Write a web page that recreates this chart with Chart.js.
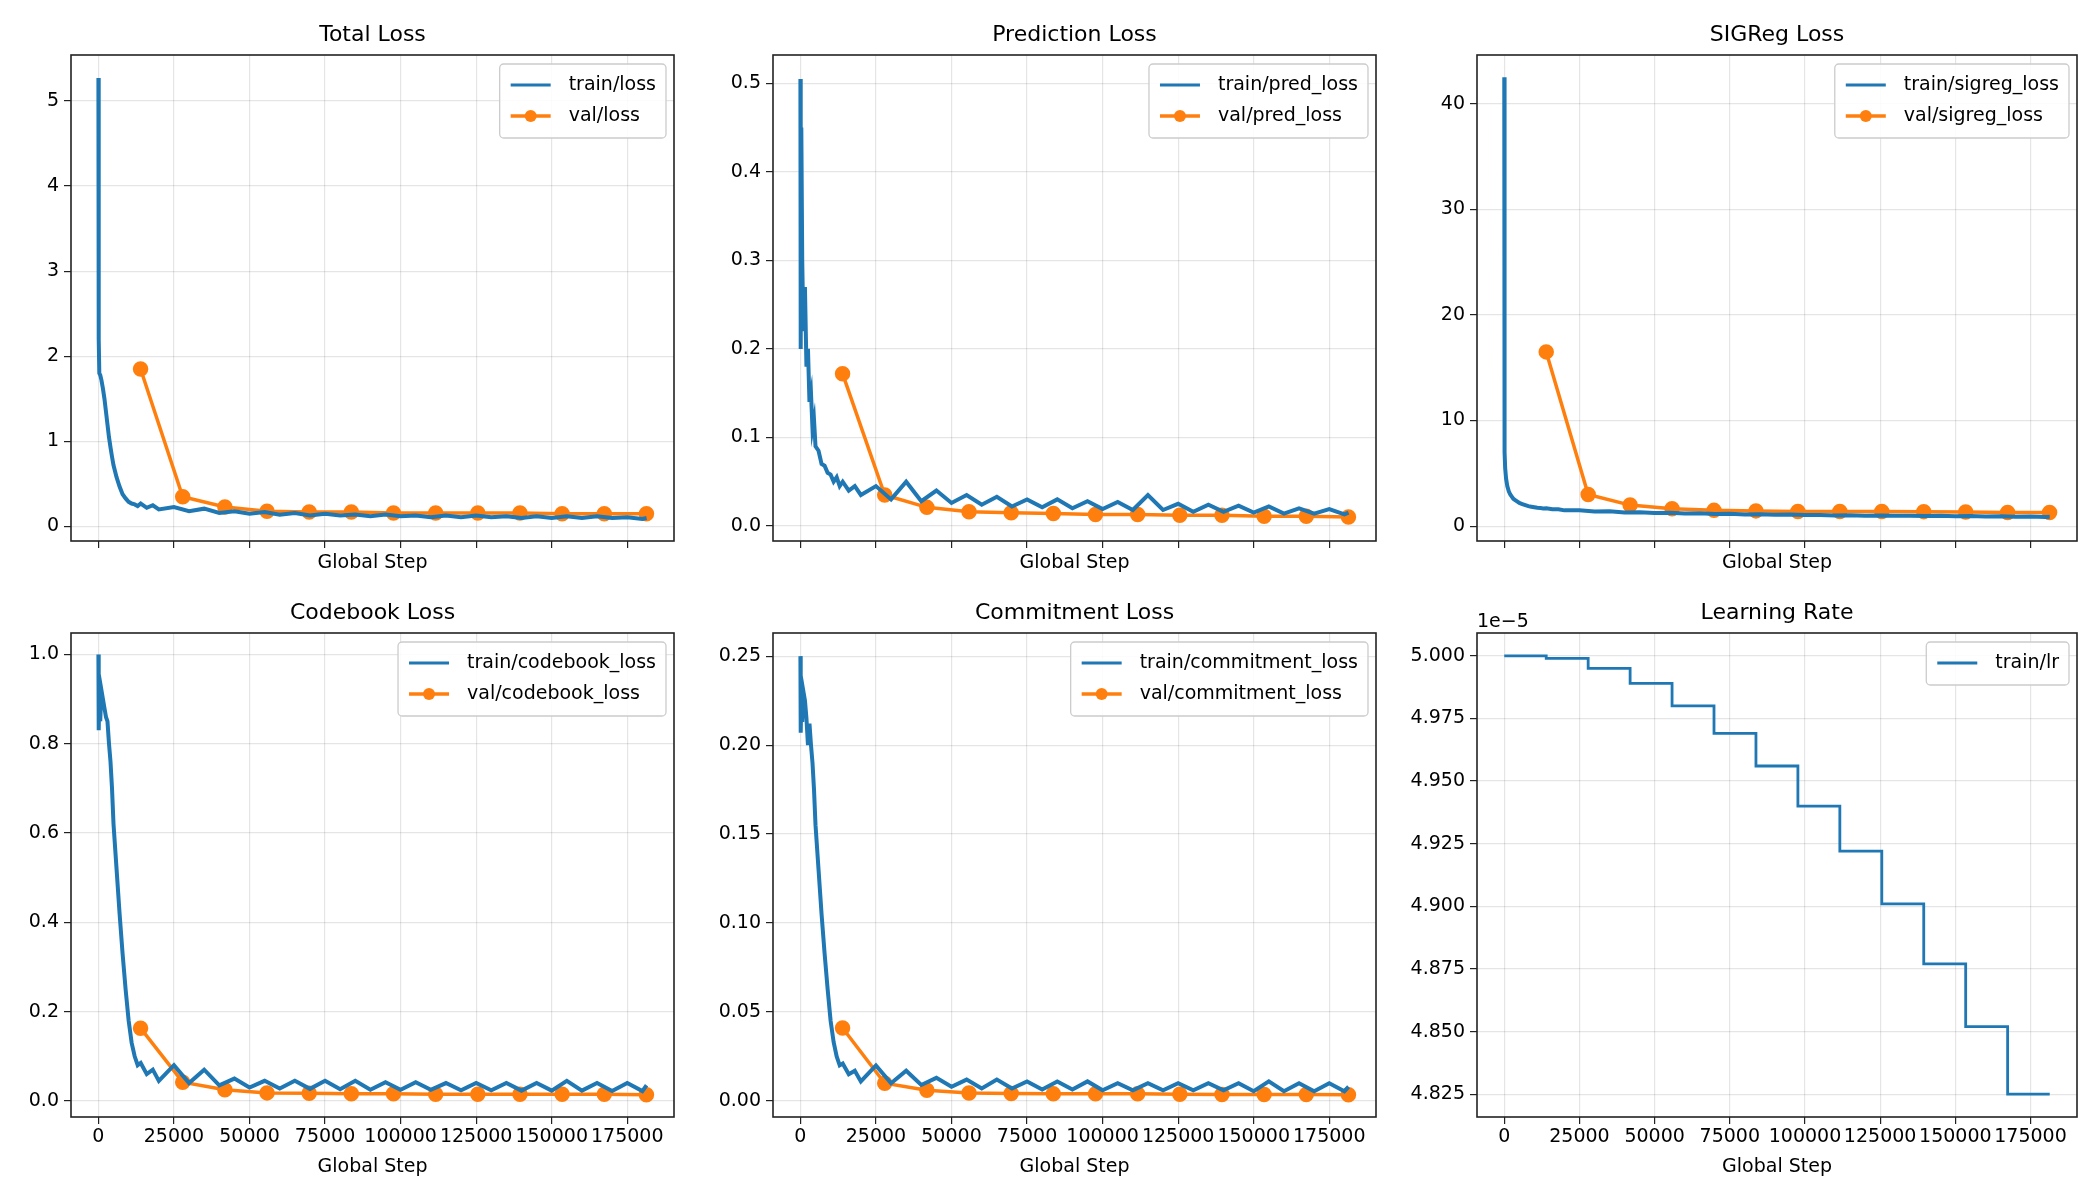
<!DOCTYPE html>
<html><head><meta charset="utf-8">
<script src="https://cdn.jsdelivr.net/npm/chart.js@4"></script>
<style>body{margin:0;background:#fff;width:2100px;height:1200px;position:relative;overflow:hidden}
.p{position:absolute}</style></head><body>
<div class="p" id="d0" style="left:-3px;top:0;width:689px;height:574px"><canvas id="c0"></canvas></div>
<div class="p" id="d1" style="left:692px;top:0;width:696px;height:574px"><canvas id="c1"></canvas></div>
<div class="p" id="d2" style="left:1392px;top:0;width:697px;height:574px"><canvas id="c2"></canvas></div>
<div class="p" id="d3" style="left:-3px;top:581px;width:689px;height:597px"><canvas id="c3"></canvas></div>
<div class="p" id="d4" style="left:692px;top:581px;width:696px;height:597px"><canvas id="c4"></canvas></div>
<div class="p" id="d5" style="left:1392px;top:581px;width:697px;height:597px"><canvas id="c5"></canvas></div>
<script>
const trainSteps=[0,100,300,600,1000,1500,2000,2500,3000,3500,4000,4500,5000,6000,7000,8000,9000,10000,11000,12000,13000,14000,16000,18000,20000,
25000,30000,35000,40000,45000,50000,55000,60000,65000,70000,75000,80000,85000,90000,95000,100000,105000,110000,115000,120000,125000,130000,135000,140000,145000,150000,155000,160000,165000,170000,175000,180000,181400];
const trainLoss=[5.27,2.2,1.8,1.78,1.72,1.62,1.5,1.35,1.2,1.05,0.93,0.82,0.72,0.58,0.47,0.38,0.33,0.29,0.27,0.26,0.24,0.27,0.22,0.25,0.2,
0.23,0.18,0.21,0.16,0.18,0.15,0.17,0.14,0.16,0.13,0.15,0.13,0.14,0.12,0.14,0.12,0.13,0.11,0.13,0.11,0.13,0.11,0.12,0.1,0.12,0.1,0.12,0.1,0.12,0.1,0.11,0.09,0.1];
const trainPred=[0.505,0.2,0.45,0.3,0.22,0.27,0.18,0.2,0.14,0.15,0.11,0.12,0.09,0.085,0.07,0.068,0.06,0.058,0.05,0.055,0.045,0.05,0.04,0.045,0.035,
0.045,0.03,0.05,0.028,0.04,0.026,0.035,0.024,0.033,0.022,0.03,0.021,0.03,0.02,0.028,0.019,0.027,0.018,0.035,0.018,0.025,0.016,0.024,0.016,0.023,0.015,0.022,0.014,0.02,0.014,0.019,0.013,0.015];
const trainSigreg=[42.5,7,5.5,4.5,3.8,3.3,3.0,2.8,2.6,2.5,2.4,2.3,2.2,2.1,2.0,1.9,1.85,1.8,1.75,1.72,1.68,1.7,1.6,1.6,1.5,
1.5,1.4,1.42,1.3,1.32,1.25,1.27,1.2,1.22,1.15,1.18,1.12,1.14,1.08,1.1,1.05,1.07,1.02,1.04,1.0,1.02,0.98,1.0,0.96,0.98,0.94,0.96,0.92,0.94,0.9,0.92,0.88,0.9];
const trainCodebook=[1.0,0.83,0.9,0.85,0.92,0.9,0.88,0.86,0.85,0.8,0.76,0.7,0.62,0.52,0.42,0.33,0.25,0.18,0.13,0.1,0.08,0.085,0.06,0.07,0.045,
0.08,0.04,0.07,0.035,0.05,0.03,0.045,0.028,0.045,0.027,0.045,0.026,0.045,0.025,0.042,0.025,0.042,0.025,0.04,0.024,0.04,0.024,0.04,0.023,0.04,0.023,0.045,0.023,0.04,0.022,0.04,0.022,0.035];
const trainCommit=[0.25,0.207,0.225,0.213,0.23,0.225,0.215,0.2,0.212,0.2,0.19,0.175,0.155,0.13,0.105,0.083,0.063,0.045,0.033,0.025,0.02,0.021,0.015,0.017,0.011,
0.02,0.01,0.017,0.009,0.013,0.008,0.012,0.007,0.012,0.007,0.011,0.0065,0.011,0.0065,0.011,0.006,0.01,0.006,0.01,0.006,0.01,0.006,0.01,0.006,0.01,0.0055,0.011,0.0055,0.01,0.0055,0.01,0.0055,0.008];
const valSteps=[13950,27900,41850,55800,69750,83700,97650,111600,125550,139500,153450,167400,181350];
const valLoss=[1.85,0.35,0.23,0.18,0.17,0.17,0.16,0.16,0.16,0.16,0.15,0.15,0.15];
const valPred=[0.172,0.035,0.021,0.016,0.015,0.014,0.013,0.013,0.012,0.012,0.011,0.011,0.010];
const valSigreg=[16.5,3.0,2.0,1.65,1.5,1.45,1.4,1.4,1.4,1.38,1.35,1.3,1.3];
const valCodebook=[0.163,0.042,0.025,0.018,0.017,0.016,0.016,0.015,0.015,0.015,0.015,0.015,0.014];
const valCommit=[0.041,0.010,0.006,0.0045,0.0042,0.004,0.004,0.004,0.0038,0.0037,0.0037,0.0037,0.0035];
const lrSteps=[0,13950,27900,41850,55800,69750,83700,97650,111600,125550,139500,153450,167400,181400];
const lrValues=[5.000e-5,4.999e-5,4.995e-5,4.989e-5,4.980e-5,4.969e-5,4.956e-5,4.940e-5,4.922e-5,4.901e-5,4.877e-5,4.852e-5,4.825e-5,4.825e-5];
const xTicks=[0,25000,50000,75000,100000,125000,150000,175000];
const yTicks0=[0,1,2,3,4,5], yTicks1=[0,0.1,0.2,0.3,0.4,0.5], yTicks2=[0,10,20,30,40];
const yTicks3=[0,0.2,0.4,0.6,0.8,1.0], yTicks4=[0,0.05,0.1,0.15,0.2,0.25];
const yTicks5=[4.825e-5,4.85e-5,4.875e-5,4.9e-5,4.925e-5,4.95e-5,4.975e-5,5.0e-5];
const titles=['Total Loss','Prediction Loss','SIGReg Loss','Codebook Loss','Commitment Loss','Learning Rate'];

const BLUE='#1f77b4', ORANGE='#ff7f0e', FONT='DejaVu Sans';
const xy=(xs,ys)=>xs.map((x,i)=>({x,y:ys[i]}));
Chart.defaults.font.family=FONT; Chart.defaults.color='#000';

const deco={id:'deco',afterDraw(c){
  const o=c.options.plugins.deco, a=c.chartArea, g=c.ctx;
  g.save();
  g.strokeStyle='#222';g.lineWidth=1.6;g.strokeRect(a.left,a.top,a.right-a.left,a.bottom-a.top);
  g.fillStyle='#000';g.font='22px '+FONT;g.textAlign='center';g.textBaseline='middle';
  g.fillText(o.title,(a.left+a.right)/2,a.top-20);
  if(o.exp){g.font='19px '+FONT;g.textAlign='left';g.textBaseline='alphabetic';g.fillText(o.exp,a.left,a.top-6);}
  const ds=c.data.datasets; g.font='19px '+FONT;
  let tw=0; ds.forEach(d=>tw=Math.max(tw,g.measureText(d.label).width));
  const w=69+tw+10, h=ds.length*31+12, x=a.right-8-w, y=a.top+9;
  g.fillStyle='rgba(255,255,255,0.85)';g.strokeStyle='#ccc';g.lineWidth=1.3;
  g.beginPath();g.roundRect(x,y,w,h,4);g.fill();g.stroke();
  ds.forEach((d,i)=>{const cy=y+21+i*31;
    g.strokeStyle=d.borderColor;g.lineWidth=d.legendWidth||d.borderWidth;g.beginPath();g.moveTo(x+11,cy);g.lineTo(x+51,cy);g.stroke();
    if(d.pointRadius>0){g.fillStyle=d.borderColor;g.beginPath();g.arc(x+31,cy,d.pointRadius,0,7);g.fill();}
    g.fillStyle='#000';g.textAlign='left';g.textBaseline='middle';g.fillText(d.label,x+69,cy);});
  g.restore();}};

function make(i,train,trainLabel,val,valLabel,yT,ymin,ymax,fmt,bottom){
  const ds=[{label:trainLabel,data:train,borderColor:BLUE,backgroundColor:BLUE,borderWidth:i===5?2.8:4,legendWidth:2.8,pointRadius:0,tension:0,stepped:i===5?'before':false}];
  if(val) ds.push({label:valLabel,data:val,borderColor:ORANGE,backgroundColor:ORANGE,borderWidth:3.5,pointRadius:6,pointHoverRadius:6,tension:0});
  const yw=[74,81,85][i%3];
  new Chart(document.getElementById('c'+i),{type:'line',data:{datasets:ds},plugins:[deco],
   options:{responsive:true,maintainAspectRatio:false,animation:false,
    layout:{padding:{top:bottom?52:55,right:12,left:0,bottom:0}},
    plugins:{legend:{display:false},tooltip:{enabled:false},deco:{title:titles[i],exp:i===5?'1e\u22125':null}},
    scales:{
     x:{type:'linear',min:-9070,max:190470,
        afterBuildTicks:s=>{s.ticks=xTicks.map(v=>({value:v}));},
        afterFit:s=>{s.height=bottom?61:33;},
        grid:{color:'rgba(0,0,0,0.1)',tickColor:'#222',tickLength:7,lineWidth:1.2},border:{display:false},
        ticks:{display:bottom,maxRotation:0,autoSkip:false,font:{size:19},padding:2,callback:v=>String(v)},
        title:{display:true,text:'Global Step',font:{size:19},padding:{top:bottom?0:10,bottom:0}}},
     y:{min:ymin,max:ymax,
        afterBuildTicks:s=>{s.ticks=yT.map(v=>({value:v}));},
        afterFit:s=>{s.width=yw;},
        grid:{color:'rgba(0,0,0,0.1)',tickColor:'#222',tickLength:7,lineWidth:1.2},border:{display:false},
        ticks:{font:{size:19},padding:5,autoSkip:false,callback:fmt}}}}});
}
make(0,xy(trainSteps,trainLoss),'train/loss',xy(valSteps,valLoss),'val/loss',yTicks0,-0.17,5.54,v=>v.toFixed(0),false);
make(1,xy(trainSteps,trainPred),'train/pred_loss',xy(valSteps,valPred),'val/pred_loss',yTicks1,-0.017,0.532,v=>v.toFixed(1),false);
make(2,xy(trainSteps,trainSigreg),'train/sigreg_loss',xy(valSteps,valSigreg),'val/sigreg_loss',yTicks2,-1.4,44.6,v=>v.toFixed(0),false);
make(3,xy(trainSteps,trainCodebook),'train/codebook_loss',xy(valSteps,valCodebook),'val/codebook_loss',yTicks3,-0.036,1.048,v=>v.toFixed(1),true);
make(4,xy(trainSteps,trainCommit),'train/commitment_loss',xy(valSteps,valCommit),'val/commitment_loss',yTicks4,-0.009,0.263,v=>v.toFixed(2),true);
make(5,xy(lrSteps,lrValues),'train/lr',null,null,yTicks5,4.8159e-5,5.0091e-5,v=>(v/1e-5).toFixed(3),true);
</script></body></html>
